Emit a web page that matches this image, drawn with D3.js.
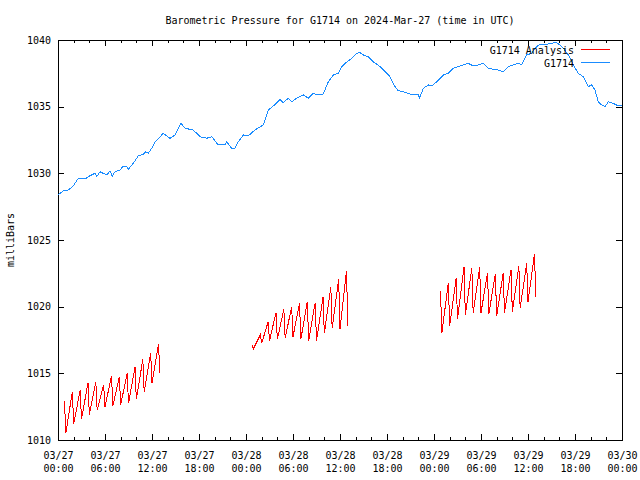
<!DOCTYPE html>
<html>
<head>
<meta charset="utf-8">
<script src="https://cdn.jsdelivr.net/npm/d3@7/dist/d3.min.js"></script>
<style>
  body { margin: 0; background: #fff; }
  svg { display: block; }
  text { font-family: "DejaVu Sans Mono", "Liberation Mono", monospace; font-size: 10px; fill: #000; }
  .domain { display: none; }
</style>
</head>
<body>
<svg id="chart" width="640" height="480"></svg>
<script>
// ---- data (hours after 2024-03-27 00:00 UTC) ----
const titleText = "Barometric Pressure for G1714 on 2024-Mar-27 (time in UTC)";
const yLabel = "milliBars";
const seriesNames = ["G1714 Analysis", "G1714"];
const yTicks = [1010, 1015, 1020, 1025, 1030, 1035, 1040];
const xMajorHours = [0, 6, 12, 18, 24, 30, 36, 42, 48, 54, 60, 66, 72];

const stationHours = [0,0.68,1.31,1.95,2.59,3.03,3.45,3.87,4.3,4.72,
  4.94,5.36,5.78,6.22,6.64,6.93,7.28,7.91,8.34,8.77,
  8.97,9.61,10.25,10.89,11.2,11.53,11.96,12.38,13.44,14.3,
  14.94,15.7,16.21,17.27,18.13,18.98,19.62,20.46,21.32,21.54,
  22.17,22.6,23.02,23.66,24.29,24.73,25.15,26.21,26.85,27.49,
  28.34,28.76,29.4,29.83,30.47,31.31,31.95,32.59,33.23,33.87,
  34.51,35.15,35.78,36.22,36.64,37.49,38.13,38.55,38.98,39.61,
  40.25,41.11,41.96,42.38,43.02,43.44,44.08,44.72,45.36,46.0,
  46.13,46.64,47.27,47.7,48.34,49.19,49.83,50.47,51.1,51.74,
  52.38,53.02,53.66,54.3,54.94,55.57,56.21,56.85,57.49,58.13,
  58.77,59.2,59.83,60.47,60.9,61.53,62.17,62.81,63.66,64.09,
  64.51,65.15,65.79,66.42,67.06,67.7,68.13,68.55,68.98,69.4,
  69.83,70.26,70.9,71.53,72];
const stationValues = [1028.38,1028.68,1028.75,1029.05,1029.63,1029.65,1029.58,1029.75,1029.88,1030.0,
  1029.75,1030.12,1030.0,1029.88,1030.18,1029.8,1030.12,1030.25,1030.55,1030.5,
  1030.3,1030.75,1031.32,1031.43,1031.62,1031.5,1031.88,1032.33,1033.0,1032.63,
  1032.88,1033.75,1033.38,1033.25,1032.75,1032.63,1032.75,1032.13,1032.13,1032.37,
  1031.88,1031.88,1032.37,1032.88,1032.8,1033.05,1033.25,1033.63,1034.75,1035.05,
  1035.55,1035.3,1035.63,1035.37,1035.63,1035.88,1035.63,1036.0,1035.88,1035.95,
  1036.87,1037.37,1037.5,1038.0,1038.25,1038.63,1039.0,1039.05,1038.88,1038.75,
  1038.37,1038.0,1037.5,1037.25,1036.5,1036.2,1036.12,1036.0,1035.88,1035.88,
  1035.63,1036.38,1036.63,1036.55,1036.87,1037.37,1037.5,1037.88,1038.0,1038.13,
  1038.25,1038.05,1038.13,1038.25,1037.88,1037.8,1037.75,1037.62,1038.0,1038.13,
  1038.25,1038.13,1038.88,1039.0,1039.38,1039.7,1039.63,1039.75,1039.8,1039.63,
  1039.38,1038.88,1038.13,1037.5,1037.25,1036.5,1036.63,1036.25,1035.37,1035.13,
  1035.0,1035.37,1035.25,1035.05,1035.13];

// analysis: null marks a gap
const analysisHours = [
  0.83,1.0,1.83,2.0,2.83,3.0,3.83,4.0,4.83,5.0,5.83,6.0,6.83,7.0,7.83,8.0,8.83,9.0,9.83,10.0,10.83,11.0,11.83,12.0,12.83,13.0,
  null,
  24.8,24.93,25.83,26.0,26.83,27.0,27.83,28.0,28.83,29.0,29.83,30.0,30.83,31.0,31.83,32.0,32.83,33.0,33.83,34.0,34.83,35.0,35.83,36.0,36.83,37.0,
  null,
  48.83,49.0,49.83,50.0,50.83,51.0,51.83,52.0,52.83,53.0,53.83,54.0,54.83,55.0,55.83,56.0,56.83,57.0,57.83,58.0,58.83,59.0,59.83,60.0,60.83,61.0];
const analysisValues = [
  1012.9,1010.5,1013.63,1011.18,1013.75,1011.55,1014.3,1011.88,1014.38,1012.25,1014.13,1012.5,1014.8,1012.55,1014.75,1012.63,1015.0,1012.75,1015.45,1013.05,1016.05,1013.63,1016.5,1014.3,1017.2,1015.05,
  null,
  1017.13,1016.83,1017.88,1017.25,1018.88,1017.45,1019.55,1017.55,1019.8,1017.63,1020.0,1017.75,1020.25,1017.55,1020.37,1017.45,1020.3,1017.45,1020.7,1018.0,1021.45,1018.38,1022.05,1018.3,1022.7,1018.55,
  null,
  1021.2,1018.0,1021.8,1018.55,1022.13,1019.05,1022.95,1019.38,1022.88,1019.55,1022.95,1019.55,1022.5,1019.45,1022.45,1019.3,1022.5,1019.55,1022.75,1019.63,1023.05,1019.88,1023.25,1020.37,1023.95,1020.75];

// ---- chart ----
const T0 = Date.UTC(2024, 2, 27);
const toDate = h => new Date(T0 + h * 3600e3);
const L = 58, R = 622, T = 40, B = 440;

const svg = d3.select("#chart");
const x = d3.scaleUtc().domain([toDate(0), toDate(72)]).range([L, R]);
const y = d3.scaleLinear().domain([1010, 1040]).range([B, T]);

const majorDates = xMajorHours.map(toDate);
const minorDates = d3.range(0, 73, 2).filter(h => h % 6 !== 0).map(toDate);

// minor ticks bottom/top
svg.append("g").attr("transform", `translate(0,${B})`)
  .call(d3.axisBottom(x).tickValues(minorDates).tickSize(-3).tickFormat(""))
  .attr("shape-rendering", "crispEdges");
svg.append("g").attr("transform", `translate(0,${T})`)
  .call(d3.axisTop(x).tickValues(minorDates).tickSize(-3).tickFormat(""))
  .attr("shape-rendering", "crispEdges");

// major bottom with labels
const fmtD = d3.utcFormat("%m/%d"), fmtT = d3.utcFormat("%H:%M");
const gx = svg.append("g").attr("transform", `translate(0,${B})`)
  .call(d3.axisBottom(x).tickValues(majorDates).tickSize(-6).tickFormat(""))
  .attr("shape-rendering", "crispEdges");
gx.selectAll(".tick text").remove();
gx.selectAll(".tick").append("text")
  .attr("text-anchor", "middle")
  .each(function(d) {
    const t = d3.select(this);
    t.append("tspan").attr("x", 0).attr("y", 19).text(fmtD(d));
    t.append("tspan").attr("x", 0).attr("y", 32).text(fmtT(d));
  });
svg.append("g").attr("transform", `translate(0,${T})`)
  .call(d3.axisTop(x).tickValues(majorDates).tickSize(-6).tickFormat(""))
  .attr("shape-rendering", "crispEdges");

// y axes
const gy = svg.append("g").attr("transform", `translate(${L},0)`)
  .call(d3.axisLeft(y).tickValues(yTicks).tickSize(-6).tickPadding(7).tickFormat(d3.format("d")))
  .attr("shape-rendering", "crispEdges");
svg.append("g").attr("transform", `translate(${R},0)`)
  .call(d3.axisRight(y).tickValues(yTicks).tickSize(-6).tickFormat(""))
  .attr("shape-rendering", "crispEdges");
svg.selectAll(".tick line").attr("stroke", "#000");
gx.attr("font-family", null).attr("font-size", null);
gy.attr("font-family", null).attr("font-size", null);

// frame
svg.append("rect").attr("x", L).attr("y", T).attr("width", R - L).attr("height", B - T)
  .attr("fill", "none").attr("stroke", "#000").attr("shape-rendering", "crispEdges");

// lines
const stationData = stationHours.map((h, i) => ({ t: toDate(h), v: stationValues[i] }));
const analysisData = analysisHours.map((h, i) => ({ t: h == null ? null : toDate(h), v: analysisValues[i] }));
const line = d3.line().defined(d => d.v != null).x(d => x(d.t)).y(d => y(d.v));

svg.append("path").datum(analysisData).attr("d", line)
  .attr("fill", "none").attr("stroke", "#ff0000").attr("stroke-width", 1)
  .attr("shape-rendering", "crispEdges");
svg.append("path").datum(stationData).attr("d", line)
  .attr("fill", "none").attr("stroke", "#1a8cff").attr("stroke-width", 1)
  .attr("shape-rendering", "crispEdges");

// legend
const legColors = ["#ff0000", "#1a8cff"];
seriesNames.forEach((n, i) => {
  const ly = 49.5 + i * 13;
  svg.append("text").attr("x", 574).attr("y", ly + 4).attr("text-anchor", "end").text(n);
  svg.append("line").attr("x1", 581).attr("x2", 610).attr("y1", ly).attr("y2", ly)
    .attr("stroke", legColors[i]).attr("shape-rendering", "crispEdges");
});

// title and y label
svg.append("text").attr("x", 340).attr("y", 24).attr("text-anchor", "middle").text(titleText);
svg.append("text").attr("transform", "translate(14,240) rotate(-90)")
  .attr("text-anchor", "middle").text(yLabel);
</script>
</body>
</html>
